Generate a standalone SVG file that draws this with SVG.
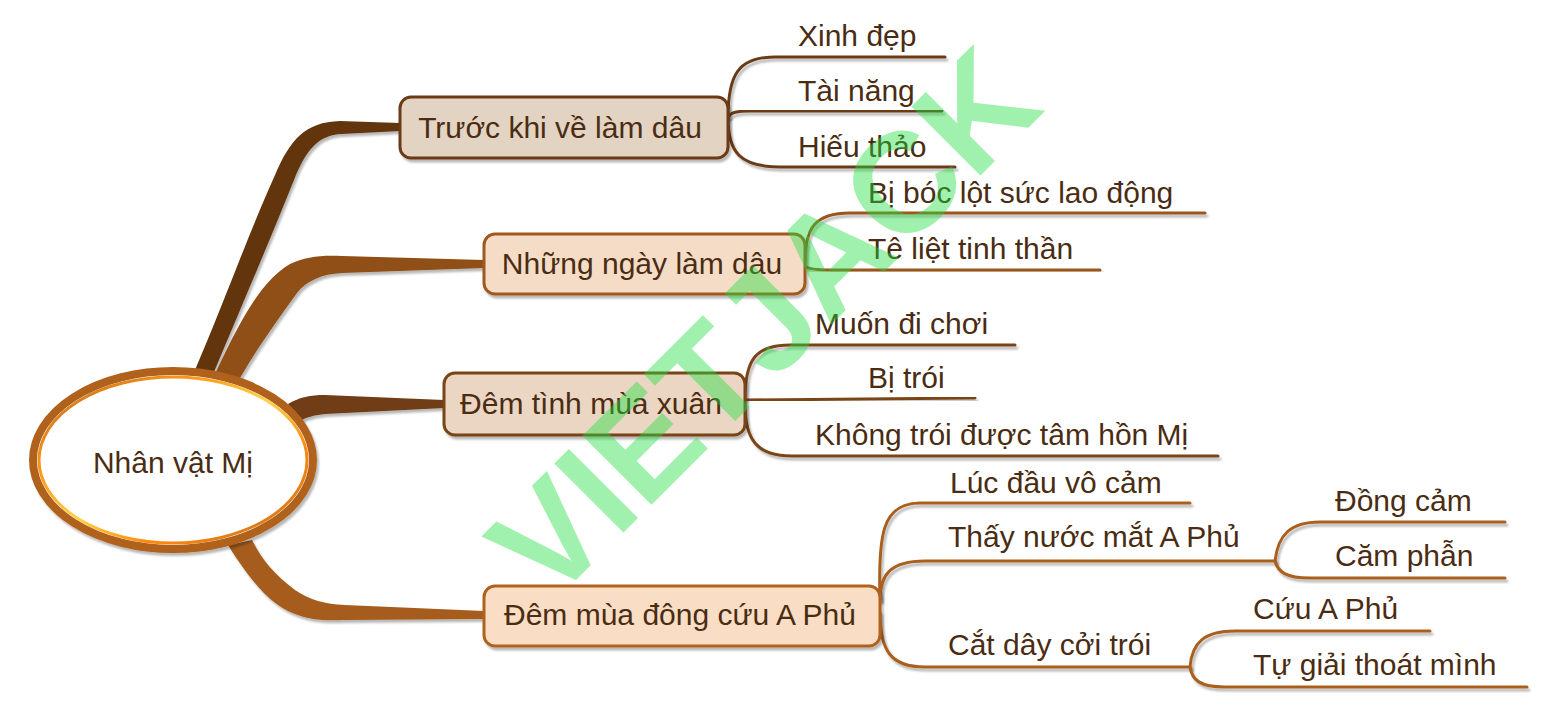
<svg xmlns="http://www.w3.org/2000/svg" width="1557" height="713" viewBox="0 0 1557 713">
<defs>
<filter id="sh" x="-10%" y="-10%" width="130%" height="140%">
<feDropShadow dx="2" dy="3" stdDeviation="1.2" flood-color="#000" flood-opacity="0.28"/>
</filter>
<linearGradient id="gold" x1="0" y1="0" x2="1" y2="1">
<stop offset="0" stop-color="#b8661c"/>
<stop offset="0.3" stop-color="#ff9a1a"/>
<stop offset="0.5" stop-color="#ffd34a"/>
<stop offset="0.7" stop-color="#ff8a10"/>
<stop offset="1" stop-color="#c0701e"/>
</linearGradient>
<style>
.t{font-family:"Liberation Sans",Arial,sans-serif;font-size:30px;fill:#4a2c12}
.box{stroke-width:3;filter:url(#sh)}
.ln{fill:none;stroke-width:3;stroke-linecap:round;filter:url(#sh)}
.wm{font-family:"Liberation Sans",Arial,sans-serif;font-weight:bold;font-size:142px;fill:#1fe040;opacity:0.42}
</style>
</defs>
<rect width="1557" height="713" fill="#ffffff"/>

<g id="connectors">
<path filter="url(#sh)" fill="#623510" d="M195,370 C225,300 250,230 275,175 C290,140 305,122 340,121 L400,123 L400,131 L342,134 C318,135 306,150 294,180 C270,240 240,310 214,372 Z"/>
<path filter="url(#sh)" fill="#8f4f14" d="M216,372 C240,320 262,280 290,264 C305,257 320,255 342,256 L484,260 L484,268 L342,273 C322,274 306,281 297,293 C276,322 256,350 240,378 Z"/>
<path filter="url(#sh)" fill="#6f3c12" d="M288,404 C300,397 310,395 325,395 L444,400 L444,408 L325,414 C315,415 307,417 300,421 Z"/>
<path filter="url(#sh)" fill="#a65c1a" d="M228,545 C250,580 270,605 295,614 C310,620 325,621 345,620 L484,619 L484,611 L345,605 C325,604 310,600 295,590 C275,575 262,560 252,540 Z"/>

<path class="ln" stroke="#6b3a14" d="M728,118 C728,75 738,57 775,57 L945,57"/>
<path class="ln" stroke="#6b3a14" d="M728,118 C730,112 738,111 750,111 L942,111"/>
<path class="ln" stroke="#6b3a14" d="M728,118 C728,152 740,167 780,167 L955,167"/>
<path class="ln" stroke="#9a561c" d="M805,262 C805,228 815,213 850,213 L1205,213"/>
<path class="ln" stroke="#9a561c" d="M805,266 C808,269 815,270 830,270 L1100,270"/>
<path class="ln" stroke="#7a4518" d="M745,400 C745,360 755,345 790,345 L1015,345"/>
<path class="ln" stroke="#7a4518" d="M745,400 L975,398"/>
<path class="ln" stroke="#7a4518" d="M745,404 C745,440 757,456 792,456 L1218,456"/>
<path class="ln" stroke="#aa5e1c" d="M880,600 C878,535 882,503 920,503 L1190,503"/>
<path class="ln" stroke="#aa5e1c" stroke-width="5" d="M880,600 C880,575 890,561 925,561 L1275,561"/>
<path class="ln" stroke="#aa5e1c" stroke-width="5" d="M880,612 C880,650 890,667 925,667 L1190,667"/>
<path class="ln" stroke="#aa5e1c" d="M1275,561 C1278,535 1290,522 1320,522 L1505,522"/>
<path class="ln" stroke="#aa5e1c" d="M1275,561 C1278,572 1286,578 1310,578 L1505,578"/>
<path class="ln" stroke="#aa5e1c" d="M1190,667 C1192,642 1205,631 1235,631 L1430,631"/>
<path class="ln" stroke="#aa5e1c" d="M1190,667 C1192,680 1200,687 1225,687 L1527,687"/>
</g>

<g id="center">
<ellipse cx="173" cy="460" rx="140" ry="89" fill="#ffffff" stroke="#b0621c" stroke-width="8" filter="url(#sh)"/>
<ellipse cx="173" cy="460" rx="134" ry="83" fill="none" stroke="url(#gold)" stroke-width="3"/>
<text class="t" x="173" y="473" text-anchor="middle">Nhân vật Mị</text>
</g>

<g id="n1">
<rect class="box" x="400" y="97" width="328" height="61" rx="11" fill="#e2d3c2" stroke="#6b3a14"/>
<text class="t" x="560" y="138" text-anchor="middle">Trước khi về làm dâu</text>
</g>
<g id="n1a"><text class="t" x="798" y="46">Xinh đẹp</text></g>
<g id="n1b"><text class="t" x="798" y="101">Tài năng</text></g>
<g id="n1c"><text class="t" x="798" y="157">Hiếu thảo</text></g>

<g id="n2">
<rect class="box" x="484" y="234" width="321" height="60" rx="11" fill="#f5dcc6" stroke="#a0581e"/>
<text class="t" x="642" y="274" text-anchor="middle">Những ngày làm dâu</text>
</g>
<g id="n2a"><text class="t" x="868" y="203">Bị bóc lột sức lao động</text></g>
<g id="n2b"><text class="t" x="868" y="259">Tê liệt tinh thần</text></g>

<g id="n3">
<rect class="box" x="444" y="373" width="301" height="62" rx="11" fill="#ead6c3" stroke="#7a4518"/>
<text class="t" x="591" y="414" text-anchor="middle">Đêm tình mùa xuân</text>
</g>
<g id="n3a"><text class="t" x="815" y="334">Muốn đi chơi</text></g>
<g id="n3b"><text class="t" x="868" y="388">Bị trói</text></g>
<g id="n3c"><text class="t" x="815" y="445">Không trói được tâm hồn Mị</text></g>

<g id="n4">
<rect class="box" x="484" y="586" width="396" height="60" rx="11" fill="#f9ddc5" stroke="#b0621f"/>
<text class="t" x="680" y="625" text-anchor="middle">Đêm mùa đông cứu A Phủ</text>
</g>
<g id="n4a"><text class="t" x="950" y="493">Lúc đầu vô cảm</text></g>
<g id="n4b"><text class="t" x="948" y="547">Thấy nước mắt A Phủ</text></g>
<g id="n4b1"><text class="t" x="1335" y="511">Đồng cảm</text></g>
<g id="n4b2"><text class="t" x="1335" y="566">Căm phẫn</text></g>
<g id="n4c"><text class="t" x="948" y="655">Cắt dây cởi trói</text></g>
<g id="n4c1"><text class="t" x="1253" y="619">Cứu A Phủ</text></g>
<g id="n4c2"><text class="t" x="1253" y="675">Tự giải thoát mình</text></g>

<text class="wm" transform="translate(762,322) rotate(-45)" x="0" y="51" text-anchor="middle">VIETJACK</text>
</svg>
